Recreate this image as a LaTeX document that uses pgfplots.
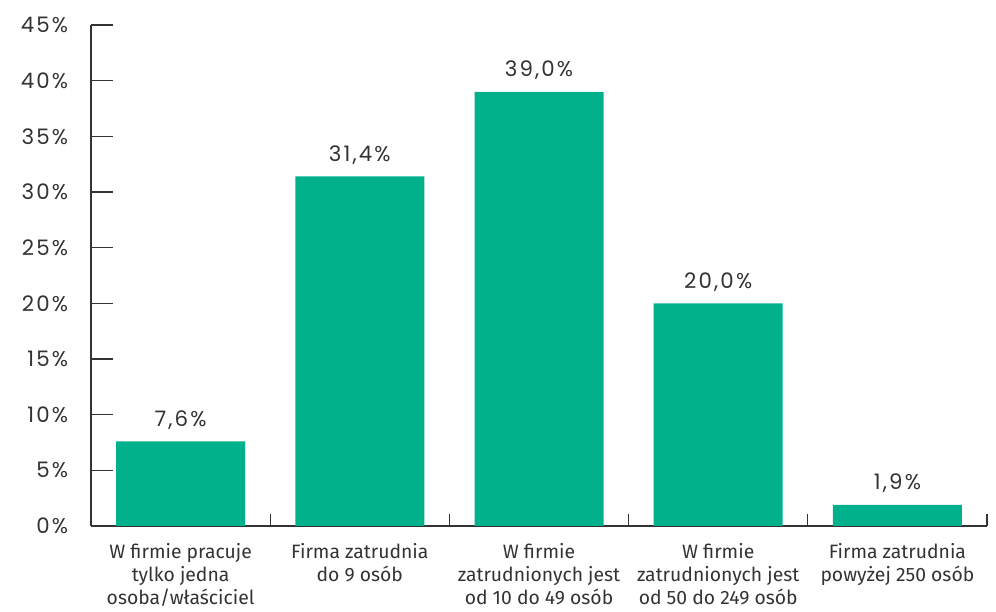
\documentclass[border=0pt]{standalone}
\usepackage{pgfplots}
\pgfplotsset{compat=1.18}
\usepackage{fontspec}
\setmainfont{Fira Sans}
\newfontfamily\numfont[LetterSpace=10]{Poppins}
\definecolor{barc}{HTML}{00B18B}
\definecolor{txt}{HTML}{333333}
\begin{document}
\begin{tikzpicture}
\begin{axis}[
  name=ax,
  /pgf/number format/assume math mode=true,
  scale only axis,
  width=672pt, height=375.75pt,
  xmin=-0.5, xmax=4.5, ymin=0, ymax=45,
  axis lines=left,
  axis line style={-, line width=1pt, color=txt},
  ytick={0,5,...,45},
  yticklabel={\numfont\pgfmathprintnumber{\tick}\%},
  yticklabel style={font=\fontsize{16pt}{18pt}\selectfont, color=txt, inner sep=0pt, xshift=-17pt},
  xtick={0,1,2,3,4},
  xticklabels={{W firmie pracuje\\tylko jedna\\osoba/właściciel},
               {Firma zatrudnia\\do 9 osób},
               {W firmie\\zatrudnionych jest\\od 10 do 49 osób},
               {W firmie\\zatrudnionych jest\\od 50 do 249 osób},
               {Firma zatrudnia\\powyżej 250 osób}},
  xticklabel style={font=\fontsize{14.5pt}{17.5pt}\selectfont, color=txt, align=center, anchor=north, inner sep=0pt, yshift=4pt},
  major x tick style={draw=none},
  minor xtick={0.5,1.5,2.5,3.5,4.5},
  tick align=inside,
  major tick length=16.5pt,
  minor tick length=-9pt,
  tick style={line width=1pt, color=txt},
  ybar, bar width=96.75pt,
  nodes near coords={\numfont\pgfmathprintnumber[fixed, fixed zerofill, precision=1, use comma]{\pgfplotspointmeta}\%},
  nodes near coords style={font=\fontsize{16pt}{18pt}\selectfont, color=txt, anchor=base, inner sep=0pt, yshift=11.25pt},
  clip=false,
]
\addplot[fill=barc, draw=none] coordinates {(0,7.6) (1,31.4) (2,39.0) (3,20.0) (4,1.9)};
\end{axis}
\pgfresetboundingbox
\path ([xshift=-68.25pt, yshift=-64.5pt]ax.south west) rectangle ([xshift=6.75pt, yshift=18.75pt]ax.north east);
\end{tikzpicture}
\end{document}
